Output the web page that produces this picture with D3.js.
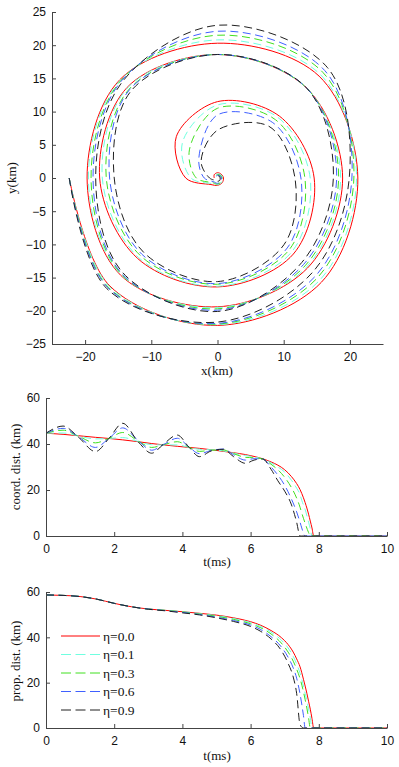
<html>
<head>
<meta charset="utf-8">
<script src='https://d3js.org/d3.v7.min.js'></script>
<style>
body { margin: 0; background: white; }
svg { font-family: 'Liberation Serif', 'DejaVu Serif', serif; }
.tick text { font-size: 12px; fill: #111; }
.axis path, .axis line { stroke: #444; }
.lbl { font-size: 13px; fill: #111; }
.leg { font-size: 13.5px; fill: #111; }
</style>
</head>
<body>
<svg width=399 height=767></svg>
<script>
// series (legend order)
var etaLabels = ["\u03b7=0.0", "\u03b7=0.1", "\u03b7=0.3", "\u03b7=0.6", "\u03b7=0.9"];
var colors = ["#ff0000", "#70ffe0", "#40e020", "#4060ff", "#202020"];
var dashes = [null, "8,4.5", "8,4.5", "8,4.5", "8,4.5"];

// top: orbit, angle in degrees (ccw, from the outer end) and radius in km
var spiralDeg = [180,225,270,315,360,405,450,495,540,585,630,675,720,765,810,855,900,945,990,1035,1080,1125,1170,1215,1260,1305,1350,1395,1440,1485,1530,1575,1620];
var spiralR00 = [22.4,23.0,22.2,22.2,21.2,21.7,20.3,20.9,19.7,20.7,19.4,19.2,18.9,19.1,18.6,19.3,17.8,17.1,16.4,16.2,14.6,13.2,11.5,8.8,4.8,1.4,1.1,1.0,0.9,0.8,0.8,0.7,0.5];
var spiralR01 = [22.4,23.1,22.1,21.8,21.0,22.0,20.8,20.8,19.5,20.6,19.5,19.0,18.6,19.1,18.6,19.2,17.4,16.9,16.3,15.8,14.0,12.9,11.0,7.5,4.0,1.2,1.0,0.9,0.8,0.7,0.6,0.5,0.4];
var spiralR03 = [22.4,23.3,22.0,21.3,20.6,22.5,21.5,20.7,19.1,20.5,19.7,18.7,18.3,19.1,18.6,18.9,16.8,16.5,16.0,15.3,13.2,12.4,10.5,6.0,3.2,1.0,0.9,0.8,0.7,0.6,0.5,0.4,0.3];
var spiralR06 = [22.4,23.4,21.9,20.9,20.3,22.9,22.1,20.6,18.8,20.4,19.9,18.4,18.0,19.1,18.6,18.8,16.3,16.2,15.9,14.9,12.6,11.8,9.5,4.0,2.0,0.8,0.8,0.7,0.6,0.5,0.4,0.3,0.2];
var spiralR09 = [22.4,23.6,21.7,20.2,19.9,23.5,23.0,20.4,18.4,20.2,20.1,18.0,17.5,19.1,18.6,18.5,15.6,15.8,15.6,14.2,11.7,11.0,7.2,3.5,1.2,0.5,0.5,0.5,0.4,0.4,0.3,0.3,0.2];

// middle: coordinate distance (km) vs t (ms)
var tCoord = [0,0.5,0.95,1.45,1.85,2.25,2.7,3.1,3.45,3.85,4.2,4.5,4.85,5.2,5.5,5.85,6.1,6.35,6.6,6.8,7.0,7.2,7.35,7.45,7.5,7.6,7.7,7.75,7.8,7.85,10];
var coord00 = [44.7,44.2,43.6,42.9,42.4,41.8,41.0,40.2,39.6,39.0,38.5,38.1,37.5,36.8,36.2,35.4,34.6,33.6,32.2,30.8,28.8,25.8,22.8,20.2,18.5,14.5,9.5,6.5,3.5,0,0];
var coord01 = [44.7,44.8,43.5,42.2,42.4,42.8,41.1,39.7,39.6,39.6,38.5,37.7,37.5,37.0,36.0,35.0,34.4,33.5,31.8,30.0,27.8,24.2,20.8,18.0,15.5,11.5,6.0,3.2,0,0,0];
var coord03 = [44.7,46.0,43.4,40.5,42.5,45.0,41.3,38.5,39.7,41.0,38.6,36.8,37.3,37.4,35.8,34.2,34.0,33.5,31.2,28.8,25.5,21.0,16.5,12.5,10.0,5.5,1.5,0,0,0,0];
var coord06 = [44.7,46.8,43.2,38.5,42.5,47.0,41.5,37.3,39.8,42.5,38.6,35.8,37.2,37.8,35.3,33.0,33.6,33.5,30.0,26.5,22.0,16.0,10.5,6.0,3.5,0,0,0,0,0,0];
var coord09 = [44.7,47.8,43.0,36.7,42.5,49.0,41.0,36.0,40.0,43.9,38.5,34.5,37.0,37.7,34.5,31.6,33.0,33.5,29.0,24.0,19.5,13.5,6.0,0,0,0,0,0,0,0,0];

// bottom: proper distance (km) vs t (ms)
var tProp = [0,0.5,1,1.5,2,2.5,3,3.5,4,4.5,5,5.5,6,6.3,6.6,6.9,7.1,7.25,7.35,7.45,7.55,7.6,7.65,7.7,7.75,7.8,7.85,10];
var prop00 = [58.7,58.5,58.0,56.8,55.0,53.5,52.5,51.9,51.3,50.6,49.8,48.6,46.9,45.3,43.0,39.9,36.8,33.5,30.5,27.0,21.5,18.5,15.3,11.8,8.3,4.2,0,0];
var prop01 = [58.7,58.5,58.0,56.8,55.0,53.5,52.5,51.9,51.3,50.5,49.6,48.3,46.5,44.8,42.3,38.8,35.3,31.6,28.2,24.2,18.5,15.2,12.0,8.5,4.5,0,0,0];
var prop03 = [58.7,58.5,58.0,56.8,55.0,53.5,52.5,51.9,51.2,50.3,49.3,47.9,46.0,44.2,41.5,37.5,33.5,29.5,26.0,21.8,16.0,12.5,8.8,4.5,0,0,0,0];
var prop06 = [58.7,58.5,58.0,56.8,55.0,53.5,52.5,51.8,51.0,50.1,48.9,47.4,45.4,43.4,40.3,35.8,31.2,26.5,22.0,15.0,5.5,0,0,0,0,0,0,0];
var prop09 = [58.7,58.5,58.0,56.8,55.0,53.5,52.4,51.7,50.8,49.9,48.6,47.0,44.8,42.6,39.3,34.2,28.5,22.5,15.3,1.5,0,0,0,0,0,0,0,0];

var spiralR = [spiralR00, spiralR01, spiralR03, spiralR06, spiralR09];
var coordD = [coord00, coord01, coord03, coord06, coord09];
var propD = [prop00, prop01, prop03, prop06, prop09];

var svg = d3.select("svg");

function drawAxes(xs, ys, xTicks, yTicks) {
  svg.append("g").attr("class", "axis")
    .attr("transform", "translate(0," + ys.range()[0] + ")")
    .call(d3.axisBottom(xs).tickValues(xTicks).tickSizeInner(-4).tickSizeOuter(0).tickPadding(8));
  svg.append("g").attr("class", "axis")
    .attr("transform", "translate(" + xs.range()[0] + ",0)")
    .call(d3.axisLeft(ys).tickValues(yTicks).tickSizeInner(-4).tickSizeOuter(0).tickPadding(6));
  svg.selectAll(".axis .domain").attr("stroke", "#444");
}

function yLabel(x, y, txt) {
  svg.append("text").attr("class", "lbl")
    .attr("transform", "translate(" + x + "," + y + ") rotate(-90)")
    .attr("text-anchor", "middle").text(txt);
}
function xLabel(x, y, txt) {
  svg.append("text").attr("class", "lbl")
    .attr("x", x).attr("y", y).attr("text-anchor", "middle").text(txt);
}

// ---- top panel: orbits
var xs1 = d3.scaleLinear().domain([-25, 25]).range([52, 383]);
var ys1 = d3.scaleLinear().domain([-25, 25]).range([344, 12]);
var orbit = d3.line()
  .x(d => xs1(d[0])).y(d => ys1(d[1]))
  .curve(d3.curveCatmullRom.alpha(0.5));

spiralR.forEach(function(rr, k) {
  var pts = spiralDeg.map(function(a, i) {
    var th = a * Math.PI / 180;
    return [rr[i] * Math.cos(th), rr[i] * Math.sin(th)];
  });
  svg.append("path").attr("d", orbit(pts))
    .attr("fill", "none").attr("stroke", colors[k]).attr("stroke-width", 1)
    .attr("stroke-dasharray", dashes[k]);
});
drawAxes(xs1, ys1, [-20, -10, 0, 10, 20], d3.range(-25, 26, 5));
xLabel(217, 375, "x(km)");
yLabel(16, 178, "y(km)");

// ---- middle panel: coordinate distance
var xs2 = d3.scaleLinear().domain([0, 10]).range([46, 387]);
var ys2 = d3.scaleLinear().domain([0, 60]).range([536, 398]);
coordD.forEach(function(dd, k) {
  var line = d3.line().x((d, i) => xs2(tCoord[i])).y(d => ys2(d)).curve(d3.curveMonotoneX);
  svg.append("path").attr("d", line(dd))
    .attr("fill", "none").attr("stroke", colors[k]).attr("stroke-width", 1)
    .attr("stroke-dasharray", dashes[k]);
});
drawAxes(xs2, ys2, d3.range(0, 11, 2), [0, 20, 40, 60]);
xLabel(217, 566, "t(ms)");
yLabel(20, 467, "coord. dist. (km)");

// ---- bottom panel: proper distance
var ys3 = d3.scaleLinear().domain([0, 60]).range([728, 592]);
propD.forEach(function(dd, k) {
  var line = d3.line().x((d, i) => xs2(tProp[i])).y(d => ys3(d)).curve(d3.curveMonotoneX);
  svg.append("path").attr("d", line(dd))
    .attr("fill", "none").attr("stroke", colors[k]).attr("stroke-width", 1)
    .attr("stroke-dasharray", dashes[k]);
});
drawAxes(xs2, ys3, d3.range(0, 11, 2), [0, 20, 40, 60]);
xLabel(217, 760, "t(ms)");
yLabel(20, 661, "prop. dist. (km)");

// legend
var lg = svg.append("g").selectAll("g").data(etaLabels).enter().append("g")
  .attr("transform", (d, i) => "translate(61," + (636 + i * 18.5) + ")");
lg.append("line").attr("x1", 0).attr("x2", 39)
  .attr("stroke", (d, i) => colors[i]).attr("stroke-width", 1)
  .attr("stroke-dasharray", (d, i) => dashes[i] ? "10,4.5" : null);
lg.append("text").attr("class", "leg").attr("x", 42).attr("dy", "0.35em").text(d => d);
</script>
</body>
</html>
